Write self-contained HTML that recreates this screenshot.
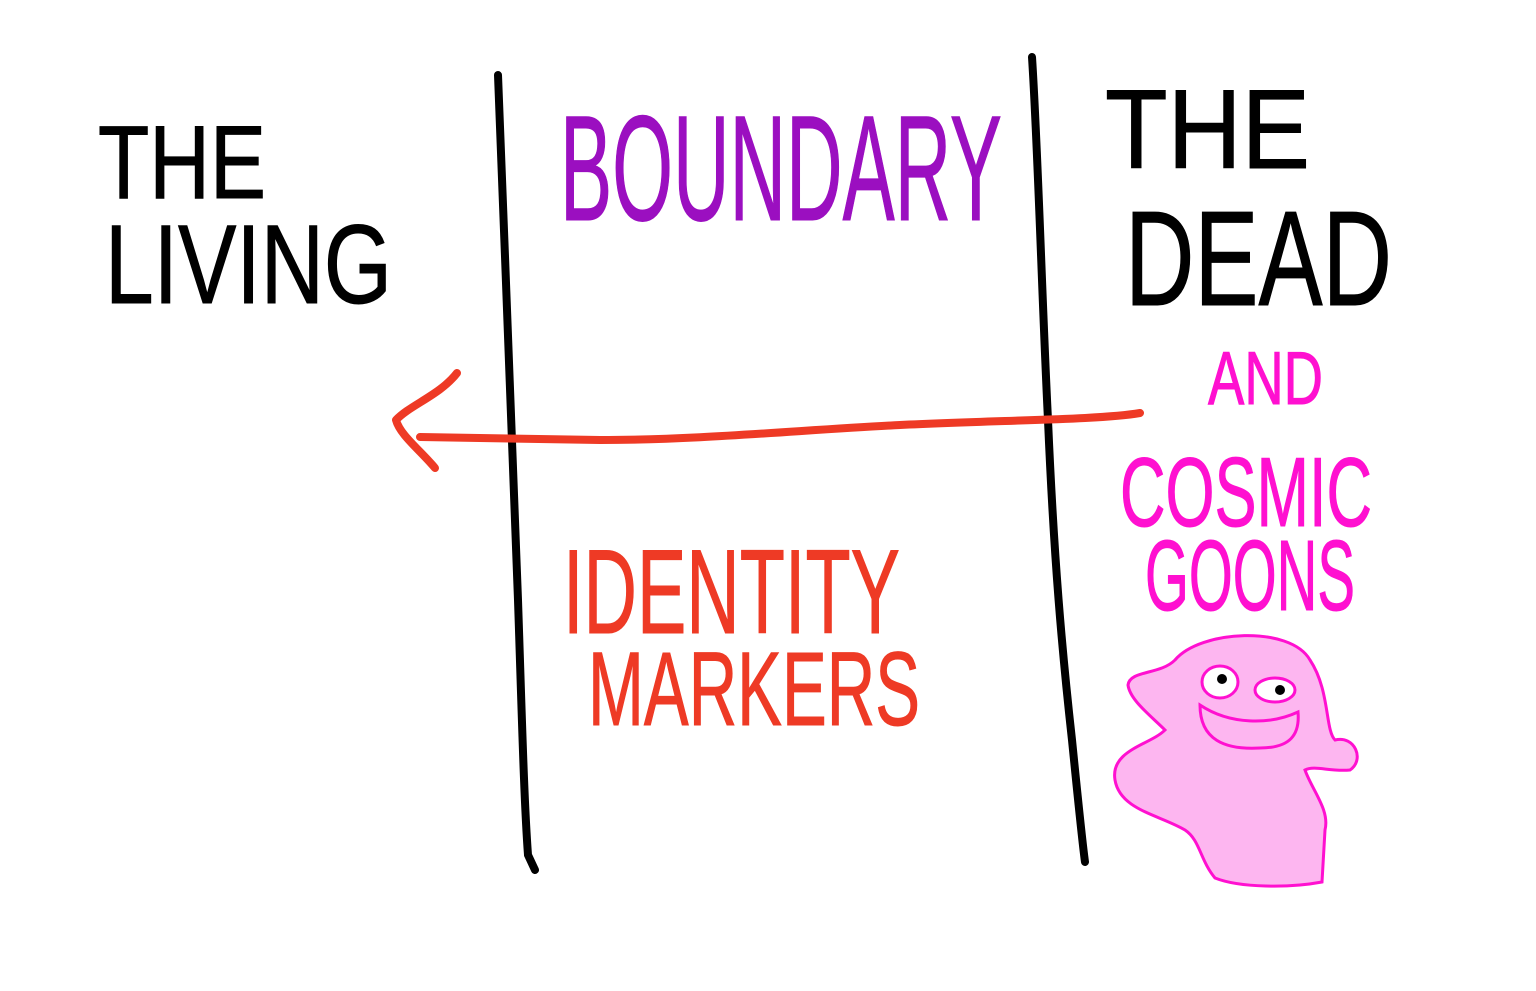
<!DOCTYPE html>
<html><head><meta charset="utf-8"><style>
html,body{margin:0;padding:0;background:#fff;}
svg{display:block;}
text{font-family:"Liberation Sans",sans-serif;}
</style></head><body>
<svg width="1536" height="991" viewBox="0 0 1536 991" xmlns="http://www.w3.org/2000/svg">
<rect width="1536" height="991" fill="#fff"/>
<path d="M498,75 C505,250 512,450 518,600 C522,720 524,800 528,855 L535,870" fill="none" stroke="#000" stroke-width="8" stroke-linecap="round"/>
<path d="M1032,57 C1038,150 1042,300 1048,420 C1054,560 1062,650 1072,740 C1078,800 1082,840 1085,862" fill="none" stroke="#000" stroke-width="8" stroke-linecap="round"/>
<path d="M1140,413 C1100,420 1000,420 900,425 C800,430 700,440 600,440 L420,437" fill="none" stroke="#ee3a25" stroke-width="8" stroke-linecap="round"/>
<path d="M457,373 C440,395 410,405 396,420 C400,435 420,450 435,468" fill="none" stroke="#ee3a25" stroke-width="8" stroke-linecap="round" stroke-linejoin="round"/>
<g fill="#000" stroke="#000" stroke-width="1">
<text x="98" y="198" font-size="104" textLength="168" lengthAdjust="spacingAndGlyphs">THE</text>
<text x="105" y="303" font-size="112" textLength="287" lengthAdjust="spacingAndGlyphs">LIVING</text>
<text x="1105" y="168" font-size="112" textLength="205" lengthAdjust="spacingAndGlyphs">THE</text>
<text x="1125" y="305" font-size="135" textLength="267" lengthAdjust="spacingAndGlyphs">DEAD</text>
</g>
<text x="560" y="220" font-size="150" fill="#9b0fc0" stroke="#9b0fc0" stroke-width="1" textLength="442" lengthAdjust="spacingAndGlyphs">BOUNDARY</text>
<g fill="#ff10d0" stroke="#ff10d0" stroke-width="1">
<text x="1208" y="404" font-size="75" textLength="115" lengthAdjust="spacingAndGlyphs">AND</text>
<text x="1120" y="526" font-size="98" textLength="252" lengthAdjust="spacingAndGlyphs">COSMIC</text>
<text x="1145" y="610" font-size="100" textLength="210" lengthAdjust="spacingAndGlyphs">GOONS</text>
</g>
<g fill="#ee3a25" stroke="#ee3a25" stroke-width="1">
<text x="563" y="633" font-size="120" textLength="337" lengthAdjust="spacingAndGlyphs">IDENTITY</text>
<text x="588" y="725" font-size="105" textLength="332" lengthAdjust="spacingAndGlyphs">MARKERS</text>
</g>
<path d="M1175,660 C1200,630 1290,625 1310,660 C1330,690 1325,730 1335,740 C1355,735 1365,760 1350,770 C1330,772 1315,765 1305,770 C1312,790 1330,810 1325,830 L1322,882 C1290,888 1240,888 1215,878 C1200,860 1200,840 1185,830 C1160,815 1120,810 1115,780 C1110,750 1150,745 1165,730 C1150,715 1130,700 1128,685 C1130,670 1160,675 1175,660 Z" fill="#fdb6f0" stroke="#ff10d0" stroke-width="3"/>
<ellipse cx="1220" cy="682" rx="18" ry="16" fill="#fff" stroke="#ff10d0" stroke-width="3"/>
<ellipse cx="1275" cy="690" rx="20" ry="12" fill="#fff" stroke="#ff10d0" stroke-width="3"/>
<circle cx="1222" cy="679" r="5" fill="#000"/>
<circle cx="1280" cy="690" r="5" fill="#000"/>
<path d="M1200,705 C1230,725 1270,725 1298,712 C1300,735 1290,748 1260,748 C1225,750 1200,740 1200,705 Z" fill="#fdb6f0" stroke="#ff10d0" stroke-width="3"/>
</svg>
</body></html>
